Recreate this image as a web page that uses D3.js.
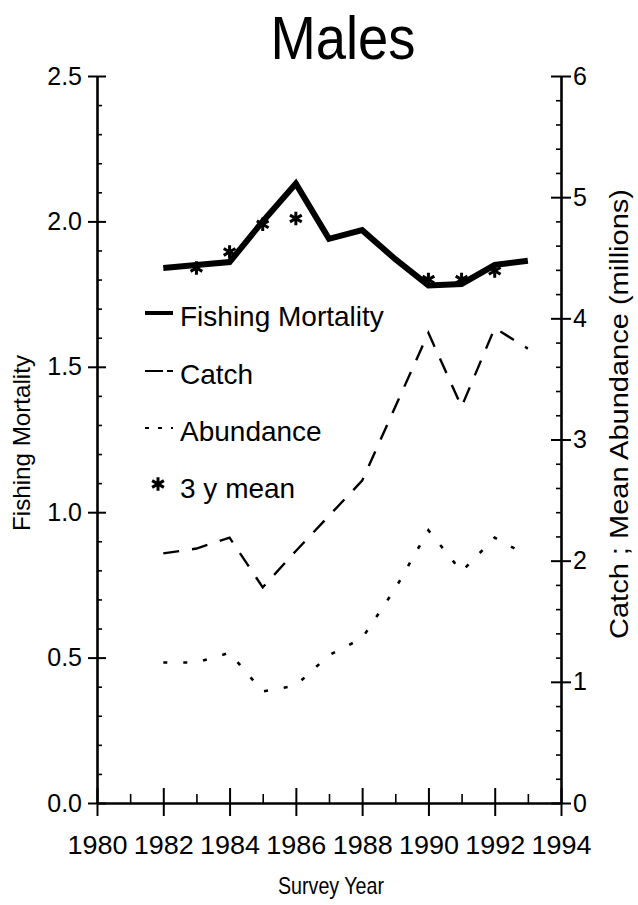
<!DOCTYPE html>
<html>
<head>
<meta charset="utf-8">
<script src="https://cdn.jsdelivr.net/npm/d3@7"></script>
<style>
  html, body { margin: 0; padding: 0; background: #fff; }
  svg { display: block; }
  text { font-family: "Liberation Sans", Arial, Helvetica, sans-serif; fill: #000; }
</style>
</head>
<body>
<svg id="chart" width="638" height="905"></svg>
<script>
// ---- data ----
const years = [1982, 1983, 1984, 1985, 1986, 1987, 1988, 1989, 1990, 1991, 1992, 1993];
const fishingMortality = [1.84, 1.85, 1.86, 2.00, 2.13, 1.94, 1.97, 1.87, 1.78, 1.785, 1.85, 1.865];
const catchMillions = [2.06, 2.10, 2.19, 1.78, 2.08, 2.37, 2.66, 3.27, 3.88, 3.27, 3.92, 3.75];
const abundanceMillions = [1.16, 1.16, 1.24, 0.92, 0.97, 1.22, 1.36, 1.77, 2.25, 1.91, 2.19, 2.04];
const meanYears = [1983, 1984, 1985, 1986, 1990, 1991, 1992];
const meanFM = [1.84, 1.895, 1.99, 2.01, 1.80, 1.80, 1.83];

const xMajorTicks = [1980, 1982, 1984, 1986, 1988, 1990, 1992, 1994];
const xMinorTicks = [1981, 1983, 1985, 1987, 1989, 1991, 1993];
const leftMajorTicks = [0, 0.5, 1.0, 1.5, 2.0, 2.5];
const rightMajorTicks = [0, 1, 2, 3, 4, 5, 6];
const legendLabels = ["Fishing Mortality", "Catch", "Abundance", "3 y mean"];

const titleText = "Males";
const xTitle = "Survey Year";
const yLeftTitle = "Fishing Mortality";
const yRightTitle = "Catch ; Mean Abundance (millions)";

// ---- layout ----
const plotLeft = 97, plotRight = 561, plotTop = 76, plotBottom = 803;
const svg = d3.select("#chart");

const x = d3.scaleLinear().domain([1980, 1994]).range([plotLeft, plotRight]);
const yL = d3.scaleLinear().domain([0, 2.5]).range([plotBottom, plotTop]);
const yR = d3.scaleLinear().domain([0, 6]).range([plotBottom, plotTop]);

function styleAxis(g) {
  g.select(".domain").attr("stroke", "#000").attr("stroke-width", 2.6);
  g.selectAll(".tick line").attr("stroke", "#000").attr("stroke-width", 2);
}

// minor ticks
const minorL = d3.range(0, 2.5001, 0.1).filter(v => Math.abs(v * 2 - Math.round(v * 2)) > 1e-6);
const minorR = d3.range(0, 6.0001, 0.2).filter(v => Math.abs(v - Math.round(v)) > 1e-6);

svg.append("g").attr("transform", `translate(${plotLeft},0)`)
  .call(d3.axisLeft(yL).tickValues(minorL).tickSize(-5).tickFormat(""))
  .call(g => { g.select(".domain").remove(); g.selectAll(".tick line").attr("stroke", "#000").attr("stroke-width", 1.6); });

svg.append("g").attr("transform", `translate(${plotRight},0)`)
  .call(d3.axisRight(yR).tickValues(minorR).tickSize(-5).tickFormat(""))
  .call(g => { g.select(".domain").remove(); g.selectAll(".tick line").attr("stroke", "#000").attr("stroke-width", 1.6); });

svg.append("g").attr("transform", `translate(0,${plotBottom})`)
  .call(d3.axisBottom(x).tickValues(xMinorTicks).tickSize(-9).tickFormat(""))
  .call(g => { g.select(".domain").remove(); g.selectAll(".tick line").attr("stroke", "#000").attr("stroke-width", 1.6); });

// major axes
const gL = svg.append("g").attr("transform", `translate(${plotLeft},0)`)
  .call(d3.axisLeft(yL).tickValues(leftMajorTicks).tickSize(9).tickSizeOuter(0).tickPadding(6).tickFormat(d3.format(".1f")))
  .call(styleAxis);
gL.selectAll(".tick line").attr("x1", 9);
gL.selectAll(".tick text").attr("font-size", 25);

const gR = svg.append("g").attr("transform", `translate(${plotRight},0)`)
  .call(d3.axisRight(yR).tickValues(rightMajorTicks).tickSize(10).tickSizeOuter(0).tickPadding(2).tickFormat(d3.format("d")))
  .call(styleAxis);
gR.selectAll(".tick line").attr("x1", -10);
gR.selectAll(".tick text").attr("font-size", 25);

const gB = svg.append("g").attr("transform", `translate(0,${plotBottom})`)
  .call(d3.axisBottom(x).tickValues(xMajorTicks).tickSize(13).tickSizeOuter(0).tickPadding(20).tickFormat(d3.format("d")))
  .call(styleAxis);
gB.selectAll(".tick line").attr("y1", -15);
gB.selectAll(".tick text").attr("font-size", 25).attr("textLength", 60).attr("lengthAdjust", "spacingAndGlyphs");

// ---- series ----
const lineL = d3.line().x((d, i) => x(years[i])).y(d => yL(d));
const lineR = d3.line().x((d, i) => x(years[i])).y(d => yR(d));

svg.append("path").datum(abundanceMillions)
  .attr("d", lineR).attr("fill", "none").attr("stroke", "#000")
  .attr("stroke-width", 2.6).attr("stroke-dasharray", "4,16");

svg.append("path").datum(catchMillions)
  .attr("d", lineR).attr("fill", "none").attr("stroke", "#000")
  .attr("stroke-width", 2.4).attr("stroke-dasharray", "16,13");

svg.append("path").datum(fishingMortality)
  .attr("d", lineL).attr("fill", "none").attr("stroke", "#000")
  .attr("stroke-width", 6).attr("stroke-linejoin", "miter");

const star = d3.symbol().type(d3.symbolAsterisk).size(130);
svg.append("g").selectAll("path").data(meanFM).join("path")
  .attr("transform", (d, i) => `translate(${x(meanYears[i])},${yL(d)})`)
  .attr("d", star).attr("fill", "none").attr("stroke", "#000").attr("stroke-width", 3);

// ---- legend ----
const legX1 = 145, legX2 = 173, legTextX = 180;
const legBase = [326, 384, 441, 498];
const leg = svg.append("g");
leg.append("line").attr("x1", legX1).attr("x2", legX2).attr("y1", legBase[0] - 13).attr("y2", legBase[0] - 13)
  .attr("stroke", "#000").attr("stroke-width", 4);
leg.append("line").attr("x1", legX1).attr("x2", legX2).attr("y1", legBase[1] - 13).attr("y2", legBase[1] - 13)
  .attr("stroke", "#000").attr("stroke-width", 2).attr("stroke-dasharray", "18,4");
leg.append("line").attr("x1", legX1).attr("x2", legX2).attr("y1", legBase[2] - 13).attr("y2", legBase[2] - 13)
  .attr("stroke", "#000").attr("stroke-width", 2).attr("stroke-dasharray", "4,9");
leg.append("path").attr("transform", `translate(158,${legBase[3] - 14})`)
  .attr("d", star).attr("fill", "none").attr("stroke", "#000").attr("stroke-width", 3);
leg.selectAll("text").data(legendLabels).join("text")
  .attr("x", legTextX).attr("y", (d, i) => legBase[i])
  .attr("font-size", 28).text(d => d);

// ---- titles ----
svg.append("text").attr("x", 343).attr("y", 59).attr("text-anchor", "middle")
  .attr("font-size", 62).attr("textLength", 145).attr("lengthAdjust", "spacingAndGlyphs").text(titleText);

svg.append("text").attr("x", 331).attr("y", 894).attr("text-anchor", "middle")
  .attr("font-size", 24).attr("textLength", 106).attr("lengthAdjust", "spacingAndGlyphs").text(xTitle);

svg.append("text").attr("transform", `translate(30,443) rotate(-90)`).attr("text-anchor", "middle")
  .attr("font-size", 24).attr("textLength", 176).attr("lengthAdjust", "spacingAndGlyphs").text(yLeftTitle);

svg.append("text").attr("transform", `translate(610,414) rotate(-90)`).attr("text-anchor", "middle")
  .attr("font-size", 26).attr("dy", "0.7em").attr("textLength", 450).attr("lengthAdjust", "spacingAndGlyphs").text(yRightTitle);
</script>
</body>
</html>
